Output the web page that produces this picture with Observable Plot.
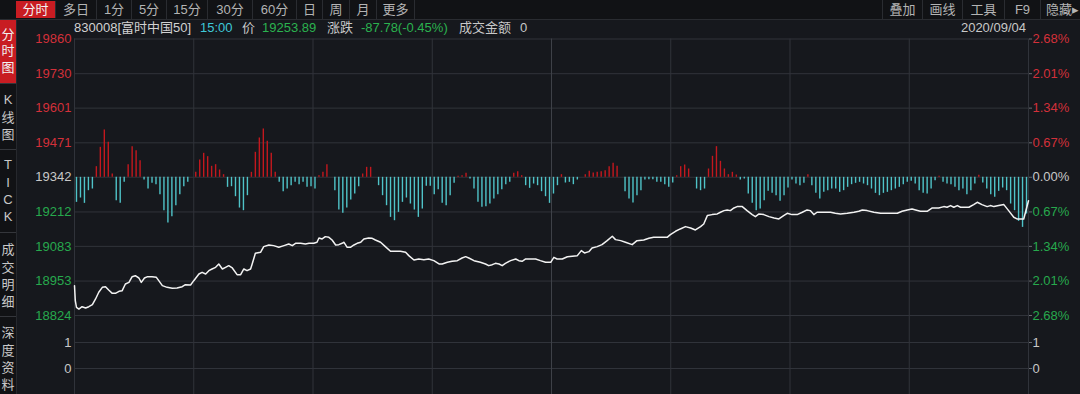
<!DOCTYPE html>
<html>
<head>
<meta charset="utf-8">
<script src="https://cdn.jsdelivr.net/npm/d3@7"></script>
<script src="https://cdn.jsdelivr.net/npm/@observablehq/plot@0.6"></script>
<style>
  html, body { margin:0; padding:0; background:#16181d; width:1080px; height:394px; overflow:hidden; }
  body { font-family:"Liberation Sans","Noto Sans CJK SC",sans-serif; font-size:13px; color:#c8c8c8; }
  #root { position:relative; width:1080px; height:394px; }
  .abs { position:absolute; white-space:nowrap; }
  #toolbar { position:absolute; left:0; top:0; width:1080px; height:19px; background:#111215; border-bottom:1px solid #2a2c31; }
  .tab { position:absolute; top:0; height:19px; line-height:19px; text-align:center; color:#b4b4b4; border-right:1px solid #2a2c31; box-sizing:border-box; }
  .tab.on { background:#c81c22; color:#f4f4f4; top:1px; height:17px; line-height:17px; }
  #sidebar { position:absolute; left:0; top:20px; width:16px; height:374px; background:#111215; border-right:1px solid #26282d; }
  .side { position:absolute; left:0; width:16px; text-align:center; color:#c8c8c8; line-height:17.3px; }
  .sep { position:absolute; left:0; width:16px; height:1px; background:#34363b; }
  .info { position:absolute; top:20px; line-height:16px; white-space:nowrap; }
  svg { position:absolute; left:0; }
</style>
</head>
<body>
<div id="root">
  <div id="plotTop"></div>
  <div id="plotBottom"></div>
</div>
<script>
// ---------- data ----------
const priceTicks = [19860, 19730, 19601, 19471, 19342, 19212, 19083, 18953, 18824];
const pctLabels  = ["2.68%", "2.01%", "1.34%", "0.67%", "0.00%", "0.67%", "1.34%", "2.01%", "2.68%"];
const volTicks   = [1, 0];
const prevClose  = 19341.67;
const gridMinutes = [0, 30, 60, 90, 150, 180, 210, 240];
const middayMinute = [120];

// minute-by-minute strength bars (arbitrary units, + red / - cyan)
const barValues = [
  -75,-62,-78,-40,-35,32,90,142,105,10,
  -70,-78,-15,38,92,80,50,-8,-35,-18,
  -22,-52,-100,-137,-118,-85,-52,-28,-15,0,
  15,52,72,62,33,38,22,8,-30,-28,
  -58,-92,-100,-55,15,75,118,145,108,72,
  15,-15,-43,-35,-25,-15,-22,-15,-30,-28,
  -35,5,15,38,0,-40,-98,-108,-92,-68,
  -50,-28,10,30,30,0,-25,-55,-85,-120,
  -130,-105,-75,-62,-80,-98,-120,-95,-27,-27,
  -52,-37,-78,-85,-55,-18,3,5,12,-5,
  -35,-75,-90,-88,-80,-65,-52,-37,-22,-15,
  12,17,5,-25,-33,-20,-25,-43,-58,-78,
  -50,-25,8,-17,-15,-22,-8,0,8,18,
  13,15,17,20,32,42,33,0,-43,-65,
  -77,-55,-40,-8,-7,-7,-15,-15,-22,-30,
  -17,5,32,37,25,0,-35,-40,-35,25,
  63,92,48,25,8,15,7,-8,-5,-50,
  -78,-100,-95,-70,-42,-48,-55,-72,-55,-32,
  -8,-20,-25,-18,8,-25,-48,-65,-45,-40,
  -35,-35,-45,-40,-30,-22,-18,-15,-20,-25,
  -35,-48,-55,-48,-45,-40,-35,-30,-22,-15,
  -12,-20,-40,-48,-50,-35,-10,3,-15,-20,
  -22,-30,-40,-35,-52,-40,-20,6,-17,-35,
  -52,-60,-42,-32,-40,-80,-100,-132,-150,-110
];
const barScale = 1.25; // bar units -> index points

// price line: minute since open, index level
const lineMinutes = [
  0,0.2,0.5,1.1,1.9,2.8,3.6,4.5,5.3,6.1,7.0,7.8,8.6,9.5,10.3,11.2,12.0,12.8,13.7,14.5,
  15.3,16.2,16.8,17.6,18.4,19.5,20.6,21.2,22.1,23.3,24.6,25.8,27.1,27.9,29.2,30.0,31.3,32.1,33.0,33.8,
  34.6,35.5,36.3,37.2,38.0,38.8,39.7,40.9,41.8,42.6,43.4,44.3,44.7,45.5,46.8,47.6,48.9,50.1,51.4,52.7,
  53.9,54.8,55.6,56.9,58.1,59.0,60.2,61.0,61.5,62.3,63.1,64.0,64.8,65.7,66.5,67.3,67.8,68.6,69.4,70.3,
  71.1,72.0,72.8,74.0,74.9,75.7,77.0,78.2,79.5,80.8,82.0,83.3,84.1,85.4,86.6,87.9,89.1,90.4,91.7,92.5,
  93.8,95.0,96.3,97.5,98.4,99.2,100.5,102.1,103.4,104.2,105.1,105.9,106.8,107.6,108.4,109.7,111.0,111.8,112.6,113.5,
  114.7,116.0,117.2,118.5,119.8,120.6,121.4,122.7,124.0,126.5,127.5,128.3,129.4,130.2,131.5,132.7,134.0,135.3,136.1,137.4,
  138.6,140.3,141.5,143.2,144.5,145.7,147.4,149.1,149.9,151.2,152.4,153.7,155.0,156.2,157.5,158.3,159.2,160.4,161.7,162.5,
  163.4,164.2,165.0,165.9,166.7,168.0,169.2,170.5,171.3,172.2,173.4,174.7,176.0,177.2,178.4,179.3,180.5,181.8,183.1,184.3,
  185.1,186.0,186.8,188.5,190.2,191.4,192.7,194.4,196.1,197.3,198.2,199.4,201.1,202.8,204.9,207.0,208.2,209.5,210.7,211.6,
  212.8,214.5,215.8,217.4,218.7,219.5,220.4,221.2,222.1,222.9,225.0,226.2,227.1,228.3,229.6,230.4,231.3,232.5,233.8,235.0,
  236.3,237.1,238.8,240
];
const linePrices = [
  18935.8,18879.5,18854.5,18848,18857,18852,18857,18864.5,18886,18911,18929.5,18932,18919.5,18907,18907,18914.5,18917,18942,18948,18969.5,
  18973,18964.5,18948,18964.5,18969.5,18969.5,18967,18954.5,18935.8,18929.5,18925.8,18927,18932,18939.5,18938.3,18954.5,18979.5,18985.8,18979.5,18992,
  18998.3,19004.5,19017,18998.3,19004.5,19010.8,19002,18977,18977,18998.3,18992,18998.3,19017,19057,19060.8,19082,19088.3,19085.8,19079.5,19085.8,
  19092,19085.8,19094.5,19094.5,19092,19094.5,19094.5,19098.3,19114.5,19110.8,19119.5,19117,19107,19088.3,19089.5,19094.5,19098.3,19079.5,19079.5,19088.3,
  19094.5,19098.3,19110.8,19114.5,19113.3,19107,19098.3,19082,19064.5,19064.5,19064.5,19060.8,19048.3,19032,19035.8,19033.3,19035.8,19029.5,19017,19017,
  19023.3,19027,19029.5,19039.5,19044.5,19039.5,19029.5,19023.3,19017,19010.8,19014.5,19019.5,19017,19010.8,19019.5,19029.5,19035.8,19029.5,19027,19035.8,
  19035.8,19035.8,19029.5,19023.3,19023.3,19042,19035.8,19035.8,19044,19048.3,19067,19058.3,19063.3,19077,19082,19089.5,19104.5,19120.8,19108.3,19104.5,
  19098.3,19089.5,19104.5,19107,19113.3,19117,19117,19117,19127,19139.5,19148.3,19157,19152,19144.5,19157,19167,19198.3,19202,19204.5,19210.8,
  19217,19219.5,19217,19227,19232,19232,19217,19202,19194.5,19204.5,19202,19194.5,19189.5,19185.8,19198.3,19207,19202,19202,19210.8,19219.5,
  19217,19202,19210.8,19210.8,19210.8,19207,19204.5,19207,19210.8,19214.5,19219.5,19217,19210.8,19207,19207,19207,19214.5,19219.5,19223.3,19219.5,
  19214.5,19214.5,19227,19227,19232,19229.5,19235.8,19229.5,19235.8,19229.5,19229.5,19239.5,19248.3,19239.5,19232,19235.8,19232,19235.8,19239.5,19217,
  19192,19185.8,19185.8,19253.89
];

// ---------- styling ----------
const FONT = '"Liberation Sans","Noto Sans CJK SC",sans-serif';
const GRID = "#30333a";
const GRID_MID = "#3e4148";
const RED_BAR = "#c3181e";
const CYAN_BAR = "#4fc3c8";
const RED_TXT = "#d3303a";
const GREEN_TXT = "#27a94d";
const GRAY_TXT = "#c8c8c8";

const barData = barValues.map((v, k) => ({m: k + 0.5, v}));
const lineData = lineMinutes.map((m, k) => ({m, p: linePrices[k]}));

// price panel: 19860 at y=38.5, 18824 at y=315, panel bottom at y=320
const pxPerPt = (315 - 38.5) / (19860 - 18824);
const yBottom = 18824 - (320 - 315) / pxPerPt;

const fmtPrice = d => String(d);
const fmtPct = d => pctLabels[priceTicks.indexOf(d)];
const upTicks = priceTicks.slice(0, 4), midTick = [priceTicks[4]], downTicks = priceTicks.slice(5);

const topPlot = Plot.plot({
  width: 1080, height: 320,
  marginLeft: 74, marginRight: 52, marginTop: 38.5, marginBottom: 0,
  style: {background: "transparent", color: GRAY_TXT, fontSize: "13px", fontFamily: FONT, overflow: "visible"},
  x: {domain: [0, 240], axis: null},
  y: {domain: [yBottom, 19860], axis: null},
  marks: [
    Plot.ruleY(priceTicks, {stroke: GRID}),
    Plot.ruleX(gridMinutes, {stroke: GRID}),
    Plot.ruleX(middayMinute, {stroke: GRID_MID}),
    Plot.ruleX(barData.filter(d => d.v < 0), {x: "m", y1: prevClose, y2: d => prevClose + d.v * barScale, stroke: CYAN_BAR, strokeWidth: 1.4}),
    Plot.ruleX(barData.filter(d => d.v > 0), {x: "m", y1: prevClose, y2: d => prevClose + d.v * barScale, stroke: RED_BAR, strokeWidth: 1.4}),
    Plot.line(lineData, {x: "m", y: "p", stroke: "#f2f2f2", strokeWidth: 1.5}),
    Plot.axisY(upTicks, {anchor: "left", tickSize: 0, tickPadding: 3, fill: RED_TXT, tickFormat: fmtPrice, label: null}),
    Plot.axisY(midTick, {anchor: "left", tickSize: 0, tickPadding: 3, fill: GRAY_TXT, tickFormat: fmtPrice, label: null}),
    Plot.axisY(downTicks, {anchor: "left", tickSize: 0, tickPadding: 3, fill: GREEN_TXT, tickFormat: fmtPrice, label: null}),
    Plot.axisY(upTicks, {anchor: "right", tickSize: 3, tickPadding: 1, stroke: "#6a6c72", fill: RED_TXT, tickFormat: fmtPct, label: null}),
    Plot.axisY(midTick, {anchor: "right", tickSize: 3, tickPadding: 1, stroke: "#6a6c72", fill: GRAY_TXT, tickFormat: fmtPct, label: null}),
    Plot.axisY(downTicks, {anchor: "right", tickSize: 3, tickPadding: 1, stroke: "#6a6c72", fill: GREEN_TXT, tickFormat: fmtPct, label: null})
  ]
});
topPlot.style.top = "0px";
document.getElementById("plotTop").appendChild(topPlot);

// volume panel: "1" at y=342, "0" at y=368, panel from 320 to 394
const unitPx = 26;
const bottomPlot = Plot.plot({
  width: 1080, height: 74,
  marginLeft: 74, marginRight: 52, marginTop: 0, marginBottom: 0,
  style: {background: "transparent", color: GRAY_TXT, fontSize: "13px", fontFamily: FONT, overflow: "visible"},
  x: {domain: [0, 240], axis: null},
  y: {domain: [-(74 - 48) / unitPx, 1 + 22 / unitPx], axis: null},
  marks: [
    Plot.ruleY(volTicks, {stroke: GRID}),
    Plot.ruleX(gridMinutes, {stroke: GRID}),
    Plot.ruleX(middayMinute, {stroke: GRID_MID}),
    Plot.axisY(volTicks, {anchor: "left", tickSize: 0, tickPadding: 3, fill: GRAY_TXT, tickFormat: d => String(d), label: null}),
    Plot.axisY(volTicks, {anchor: "right", tickSize: 3, tickPadding: 1, stroke: "#6a6c72", fill: GRAY_TXT, tickFormat: d => String(d), label: null})
  ]
});
bottomPlot.style.top = "320px";
document.getElementById("plotBottom").appendChild(bottomPlot);

// ---------- UI chrome (text) ----------
const root = document.getElementById("root");
const leftTabs = [
  {t: "分时", x0: 16, x1: 56, on: true},
  {t: "多日", x0: 56, x1: 97}, {t: "1分", x0: 97, x1: 132}, {t: "5分", x0: 132, x1: 167},
  {t: "15分", x0: 167, x1: 208}, {t: "30分", x0: 208, x1: 253}, {t: "60分", x0: 253, x1: 297},
  {t: "日", x0: 297, x1: 323}, {t: "周", x0: 323, x1: 350}, {t: "月", x0: 350, x1: 377},
  {t: "更多", x0: 377, x1: 415}
];
const rightTabs = [
  {t: "叠加", x0: 882, x1: 922}, {t: "画线", x0: 922, x1: 962}, {t: "工具", x0: 962, x1: 1004},
  {t: "F9", x0: 1004, x1: 1040}, {t: "隐藏▸", x0: 1040, x1: 1084}
];
const bar = document.createElement("div");
bar.id = "toolbar";
root.appendChild(bar);
for (const tb of leftTabs.concat(rightTabs)) {
  const d = document.createElement("div");
  d.className = "tab" + (tb.on ? " on" : "");
  d.style.left = tb.x0 + "px";
  d.style.width = (tb.x1 - tb.x0) + "px";
  d.textContent = tb.t;
  if (tb.x0 >= 882) { d.style.borderRight = "none"; d.style.borderLeft = "1px solid #2a2c31"; }
  bar.appendChild(d);
}

const side = document.createElement("div");
side.id = "sidebar";
root.appendChild(side);
const red = document.createElement("div");
red.className = "abs";
red.style.cssText = "left:0;top:0;width:16px;height:63px;background:#c81c22;";
side.appendChild(red);
const sideGroups = [
  {chars: ["分", "时", "图"], top: 6.5, color: "#f2f2f2", lh: 16.7},
  {chars: ["K", "线", "图"], top: 71.3},
  {chars: ["T", "I", "C", "K"], top: 136.3},
  {chars: ["成", "交", "明", "细"], top: 221.3},
  {chars: ["深", "度", "资", "料"], top: 304.3}
];
for (const g of sideGroups) {
  const d = document.createElement("div");
  d.className = "side";
  d.style.top = g.top + "px";
  if (g.color) d.style.color = g.color;
  if (g.lh) d.style.lineHeight = g.lh + "px";
  d.innerHTML = g.chars.join("<br>");
  side.appendChild(d);
}
for (const y of [63, 129, 212, 296]) {
  const s = document.createElement("div");
  s.className = "sep";
  s.style.top = y + "px";
  side.appendChild(s);
}

const infoItems = [
  {t: "830008[富时中国50]", x: 74, c: "#d2d2d2"},
  {t: "15:00", x: 200, c: "#3fc8d8"},
  {t: "价", x: 242, c: "#c8c8c8"},
  {t: "19253.89", x: 262, c: "#2bb24f"},
  {t: "涨跌", x: 327, c: "#c8c8c8"},
  {t: "-87.78(-0.45%)", x: 361, c: "#2bb24f"},
  {t: "成交金额", x: 459, c: "#c8c8c8"},
  {t: "0", x: 520, c: "#c8c8c8"}
];
for (const it of infoItems) {
  const d = document.createElement("div");
  d.className = "info";
  d.style.left = it.x + "px";
  d.style.color = it.c;
  d.textContent = it.t;
  root.appendChild(d);
}
const date = document.createElement("div");
date.className = "info";
date.style.right = "54px";
date.style.color = "#c8c8c8";
date.textContent = "2020/09/04";
root.appendChild(date);
</script>
</body>
</html>
